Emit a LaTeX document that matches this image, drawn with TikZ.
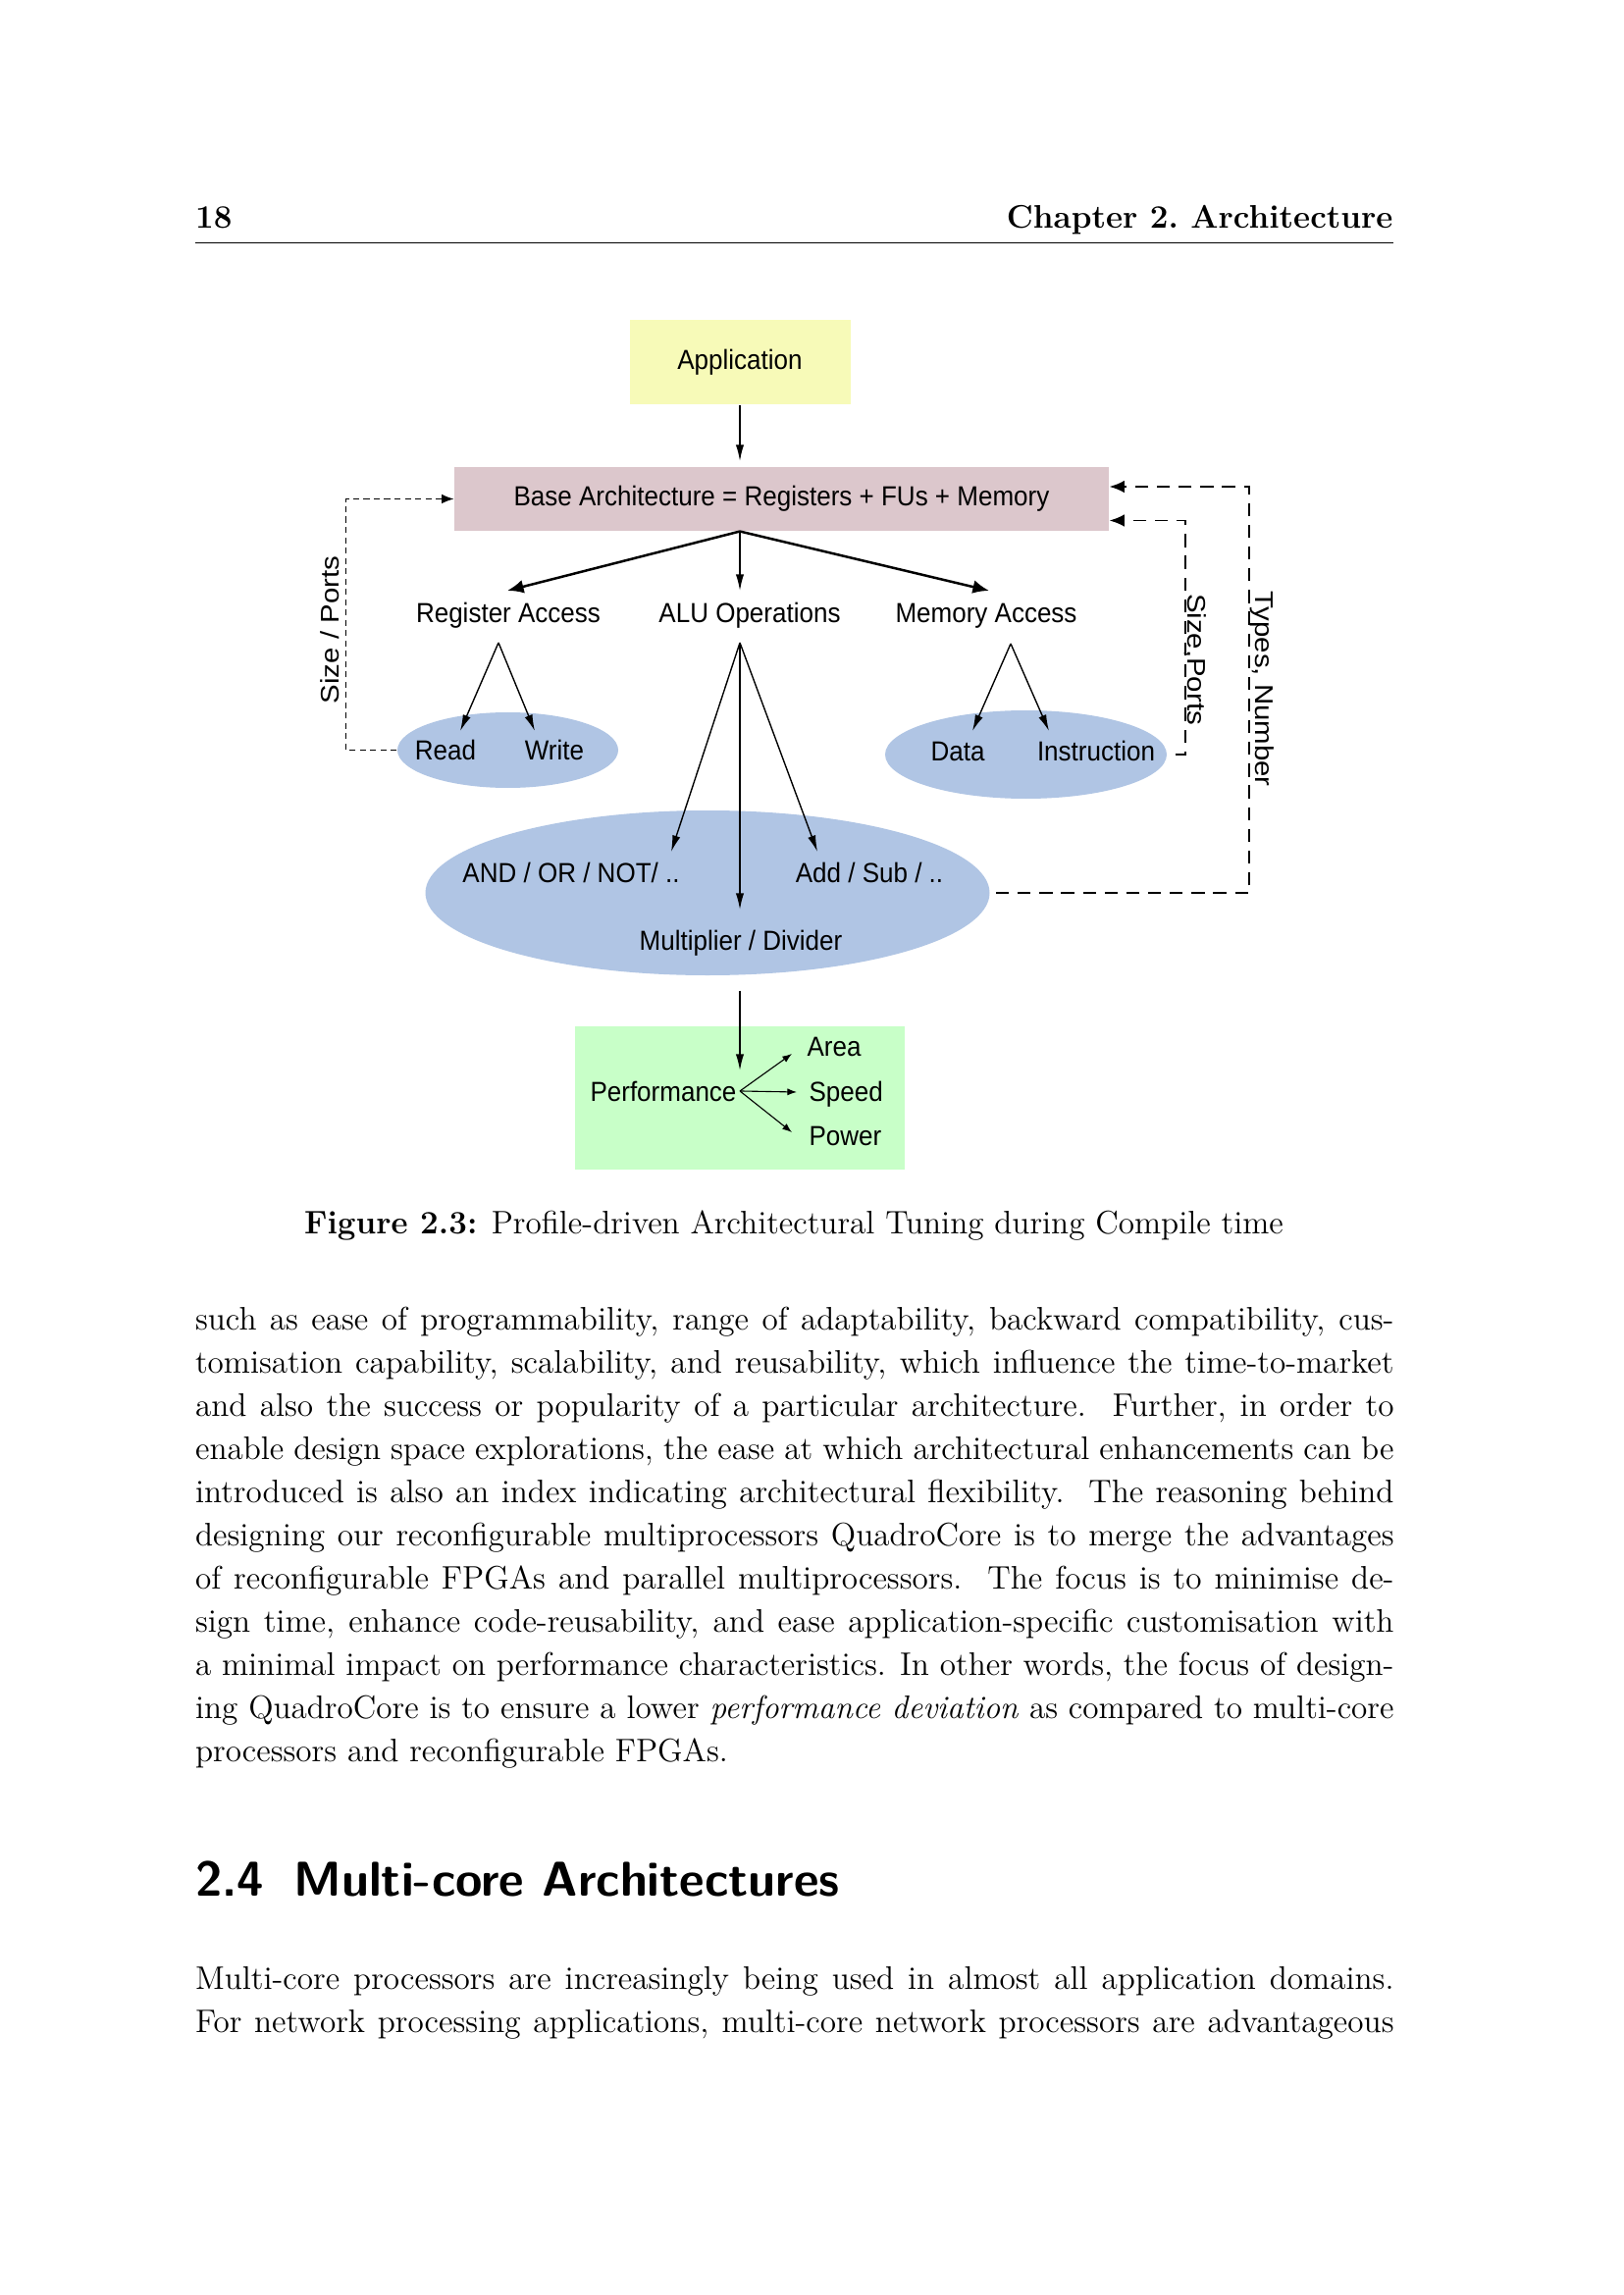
\documentclass[tikz,border=0pt]{standalone}
\usepackage{fontspec}
\usepackage{graphicx}
\usetikzlibrary{shapes.geometric,arrows.meta,calc}
\newfontfamily\figfont{Liberation Sans}
\definecolor{appyellow}{RGB}{247,250,184}
\definecolor{basepink}{RGB}{220,199,204}
\definecolor{opblue}{RGB}{176,197,228}
\definecolor{perfgreen}{RGB}{200,255,200}
\newdimen\pix \pix=0.36135pt
\newcommand{\lbl}[1]{\scalebox{1}[1.08]{#1}}
\newcommand{\vlbl}[1]{\scalebox{1.13}[1]{#1}}

\begin{document}
\begin{tikzpicture}[x=0.36135pt,y=-0.36135pt,
  fig/.style={font=\figfont\fontsize{9.4}{11}\selectfont},
  txt/.style={fig,inner sep=0pt,anchor=base},
  box/.style={fig,draw=none,rectangle,inner sep=0pt},
  blob/.style={draw=none,ellipse,fill=opblue,inner sep=0pt},
  thick arr/.style={line width=0.9pt,-{Latex[length=6pt,width=5pt]}},
  arr/.style={line width=0.5pt,-{Latex[length=6pt,width=3pt]}},
  small arr/.style={line width=0.4pt,-{Latex[length=3.5pt,width=2.6pt]}},
  fine dash/.style={line width=0.45pt,dash pattern=on 2.2pt off 1.6pt,-{Latex[length=4.5pt,width=3.5pt]}},
  wide dash/.style={line width=0.7pt,dash pattern=on 4.8pt off 3.2pt,-{Latex[length=5.5pt,width=4.5pt]}},
  page/.style={inner sep=0pt,anchor=base west,font=\fontsize{12}{16}\selectfont}]

\fill[white] (0,0) rectangle (1654,2339);
\useasboundingbox (0,0) rectangle (1654,2339);

% running head
\node[page,font=\fontsize{12}{14}\selectfont\bfseries] (pagenum) at (198.5,233) {18};
\node[page,anchor=base east,font=\fontsize{12}{14}\selectfont\bfseries] (chap) at (1420,233) {Chapter 2.\ Architecture};
\draw[line width=0.35pt] (198.5,247) -- (1420,247);

% boxes and ellipses
\node[box,fill=appyellow,minimum width=225\pix,minimum height=86\pix] (app) at (754,369) {\lbl{Application}};
\node[box,fill=basepink,minimum width=667\pix,minimum height=65\pix] (base) at (796.5,508.5) {\lbl{Base Architecture = Registers + FUs + Memory}};
\node[blob,minimum width=225\pix,minimum height=77\pix] (rw) at (517.5,764.5) {};
\node[blob,minimum width=287\pix,minimum height=90\pix] (di) at (1045.5,769) {};
\node[blob,minimum width=575\pix,minimum height=168\pix] (alul) at (721,910) {};
\node[box,fill=perfgreen,minimum width=336\pix,minimum height=146\pix] (perfbox) at (754,1119) {};

% labels
\node[txt] (regacc) at (518,635) {\lbl{Register Access}};
\node[txt] (alu) at (764,635) {\lbl{ALU Operations}};
\node[txt] (memacc) at (1005,635) {\lbl{Memory Access}};
\node[txt] (read) at (454,775) {\lbl{Read}};
\node[txt] (write) at (565,775) {\lbl{Write}};
\node[txt] (data) at (976,776) {\lbl{Data}};
\node[txt] (instr) at (1117,776) {\lbl{Instruction}};
\node[txt] (andor) at (582,899) {\lbl{AND / OR / NOT/ ..}};
\node[txt] (addsub) at (886,899) {\lbl{Add / Sub / ..}};
\node[txt] (muldiv) at (755,968) {\lbl{Multiplier / Divider}};
\node[txt,anchor=base east] (perf) at (751,1122) {\lbl{Performance}};
\node[txt,anchor=base west] (area) at (822,1076) {\lbl{Area}};
\node[txt,anchor=base west] (speed) at (824,1122) {\lbl{Speed}};
\node[txt,anchor=base west] (power) at (824,1167) {\lbl{Power}};
\node[fig,rotate=90,inner sep=0pt] (szl) at (336,642) {\vlbl{Size / Ports}};
\node[fig,rotate=-90,inner sep=0pt] (szr) at (1218,672) {\vlbl{Size,Ports}};
\node[fig,rotate=-90,inner sep=0pt] (tyn) at (1286,702) {\vlbl{Types, Number}};
\coordinate (fork) at ($(perf.east)+(3,0)$);

% arrows
\draw[arr,shorten >=2pt] (app.south) -- (app.south |- base.north);
\draw[thick arr] (base.south -| app) -- ($(regacc.base)+(-1,-33)$);
\draw[arr] (base.south -| app) -- ($(app |- alu.base)+(0,-33)$);
\draw[thick arr] (base.south -| app) -- ($(memacc.base)+(3,-33)$);
\draw[arr] ($(regacc.base)+(-10,20)$) -- ($(read.base)+(15,-30)$);
\draw[arr] ($(regacc.base)+(-10,20)$) -- ($(write.base)+(-20,-30)$);
\draw[arr] ($(memacc.base)+(25,21)$) -- ($(data.base)+(15,-31)$);
\draw[arr] ($(memacc.base)+(25,21)$) -- ($(instr.base)+(-48,-31)$);
\draw[arr] ($(app |- alu.base)+(0,20)$) -- ($(andor.base)+(102,-31)$);
\draw[arr] ($(app |- alu.base)+(0,20)$) -- ($(app |- muldiv.base)+(0,-41)$);
\draw[arr] ($(app |- alu.base)+(0,20)$) -- ($(addsub.base)+(-53,-31)$);
\draw[arr] ($(alul.south -| fork)+(0,15)$) -- ($(fork)+(0,-21)$);
\draw[small arr] (fork) -- ($(area.base west)+(-15,-2)$);
\draw[small arr] (fork) -- ($(speed.base west)+(-12,-9)$);
\draw[small arr] (fork) -- ($(power.base west)+(-17,-13)$);

% feedback lines
\draw[fine dash] (rw.west) -- ++(-52,0) |- (base.west);
\draw[wide dash] ($(di.east)+(8,0)$) -- ++(10,0) |- ($(base.east)+(0,22)$);
\draw[wide dash] ($(alul.east)+(6,0)$) -- ++(258,0) |- ($(base.east)+(0,-12.5)$);

% caption and text
\node[page,anchor=base] (caption) at (809,1257) {\textbf{Figure 2.3:} Profile-driven Architectural Tuning during Compile time};
\foreach \bodyline [count=\i] in {
  {such as ease of programmability, range of adaptability, backward compatibility, cus-},
  {tomisation capability, scalability, and reusability, which influence the time-to-market},
  {and also the success or popularity of a particular architecture.\ \ Further, in order to},
  {enable design space explorations, the ease at which architectural enhancements can be},
  {introduced is also an index indicating architectural flexibility.\ \ The reasoning behind},
  {designing our reconfigurable multiprocessors QuadroCore is to merge the advantages},
  {of reconfigurable FPGAs and parallel multiprocessors.\ \ The focus is to minimise de-},
  {sign time, enhance code-reusability, and ease application-specific customisation with},
  {a minimal impact on performance characteristics. In other words, the focus of design-},
  {ing QuadroCore is to ensure a lower \emph{performance deviation} as compared to multi-core}}
  \node[page] (body\i) at (198.5,{1355+44*(\i-1)}) {\makebox[1221.5\pix][s]{\bodyline}};
\node[page] (body11) at (198.5,1795) {processors and reconfigurable FPGAs.};

\node[page,font=\fontsize{18}{22}\selectfont\sffamily\bfseries] (secnum) at (198.5,1932) {2.4};
\node[page,font=\fontsize{18}{22}\selectfont\sffamily\bfseries] (sectitle) at (299,1932) {Multi-core Architectures};
\node[page] (next1) at (198.5,2027) {\makebox[1221.5\pix][s]{Multi-core processors are increasingly being used in almost all application domains.}};
\node[page] (next2) at (198.5,2071) {\makebox[1221.5\pix][s]{For network processing applications, multi-core network processors are advantageous}};
\end{tikzpicture}
\end{document}
